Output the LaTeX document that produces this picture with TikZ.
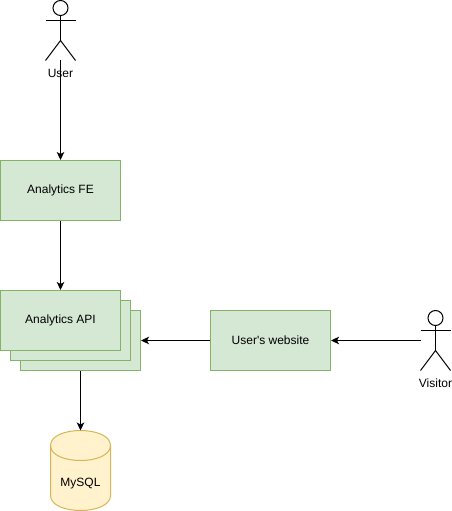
\documentclass[tikz,border=0pt]{standalone}
\usepackage{fontspec}
\setmainfont{Liberation Sans}
\usetikzlibrary{arrows.meta}
\definecolor{gfill}{HTML}{D5E8D4}
\definecolor{gline}{HTML}{82B366}
\definecolor{yfill}{HTML}{FFF2CC}
\definecolor{yline}{HTML}{D6B656}
\tikzset{
  greenbox/.style={draw=gline,fill=gfill,line width=1pt,minimum width=120pt,minimum height=60pt,inner sep=0pt,font=\fontsize{12pt}{14pt}\selectfont,text=black},
  actorbox/.style={minimum width=30pt,minimum height=60pt,inner sep=0pt,outer sep=0pt},
  actorline/.style={draw=black,line width=1pt},
  txt/.style={inner sep=0pt,font=\fontsize{12pt}{14pt}\selectfont,text=black},
  conn/.style={draw=black,line width=1pt,-{Stealth[length=8pt,width=7.5pt,inset=2pt]}},
}
\begin{document}
\begin{tikzpicture}[x=1pt,y=-1pt]
\useasboundingbox (0,0) rectangle (452,511);
% actors
\node[actorbox] (user) at (60.5,30.5) {};
\node[actorbox] (visitor) at (435.5,340.5) {};
\foreach \a in {user,visitor}{
  \draw[actorline,fill=white] ([yshift=-7.5pt]\a.north) circle[radius=7.5pt];
  \draw[actorline] ([yshift=-15pt]\a.north) -- ([yshift=-10pt]\a.center);
  \draw[actorline] ([yshift=10pt]\a.west) -- ([yshift=10pt]\a.east);
  \draw[actorline] (\a.south west) -- ([yshift=-10pt]\a.center) -- (\a.south east);
}
\node[txt] (userlabel) at (60.5,73) {User};
\node[txt] (visitorlabel) at (435.5,383) {Visitor};
% boxes
\node[greenbox] (fe) at (60.5,190.5) {Analytics FE};
\node[greenbox] (api3) at (80.5,340.5) {};
\node[greenbox] (api2) at (70.5,330.5) {};
\node[greenbox] (api) at (60.5,320.5) {Analytics API};
\node[greenbox] (web) at (270.5,340.5) {User\textquotesingle s website};
% cylinder
\node[minimum width=60pt,minimum height=80pt,inner sep=0pt,outer sep=0pt] (db) at (80.5,470.5) {};
\draw[draw=yline,fill=yfill,line width=1pt]
  (50.5,445.5) .. controls (50.5,425.5) and (110.5,425.5) .. (110.5,445.5)
  -- (110.5,495.5)
  .. controls (110.5,515.5) and (50.5,515.5) .. (50.5,495.5) -- cycle;
\draw[draw=yline,line width=1pt]
  (50.5,445.5) .. controls (50.5,465.5) and (110.5,465.5) .. (110.5,445.5);
\node[txt] (dblabel) at (80.5,483.5) {MySQL};
% connectors
\draw[conn] (user.south) -- (fe.north);
\draw[conn] (fe.south) -- (api.north);
\draw[conn] (api3.south) -- (db.north);
\draw[conn] (web.west) -- (api3.east);
\draw[conn] (visitor.west) -- (web.east);
\end{tikzpicture}
\end{document}
